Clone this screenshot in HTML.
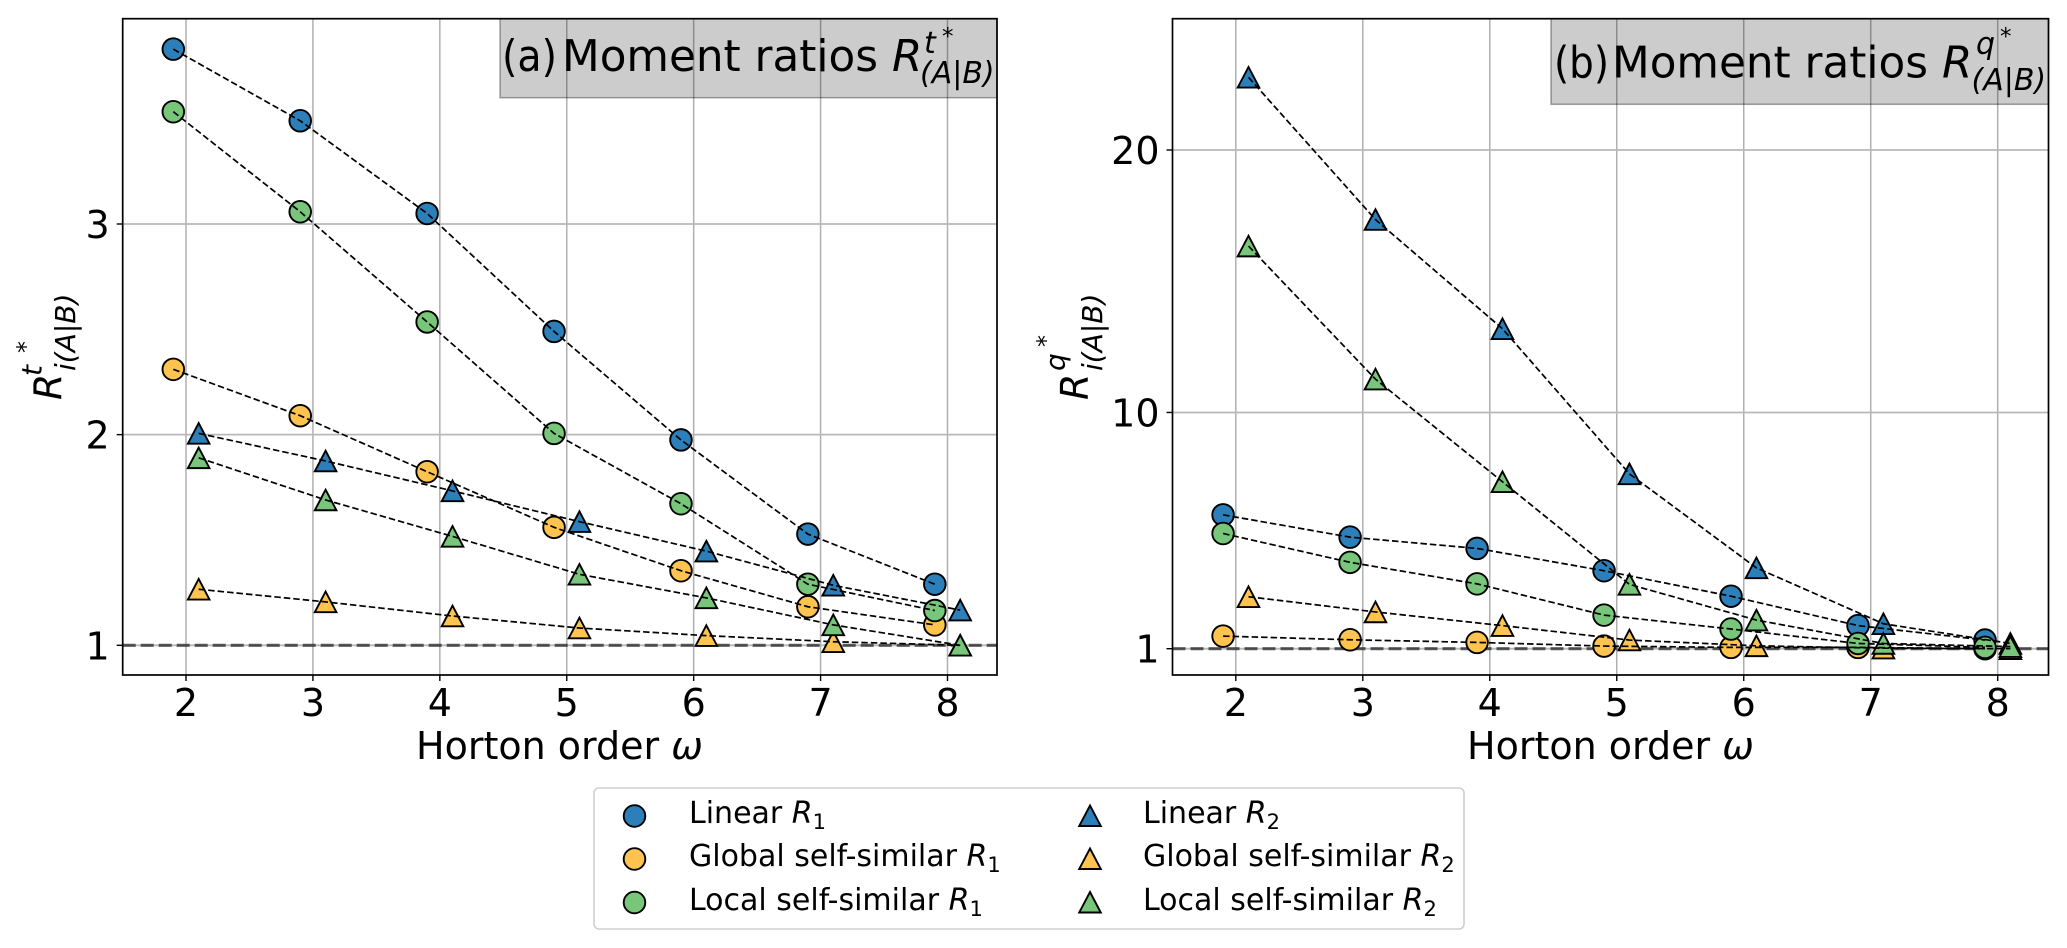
<!DOCTYPE html>
<html lang="en">
<head>
<meta charset="utf-8">
<title>Moment ratios vs Horton order</title>
<style>
html,body{margin:0;padding:0;background:#fff;width:2067px;height:948px;overflow:hidden}
svg{display:block}
text{font-family:"DejaVu Sans","Liberation Sans",sans-serif;fill:#000}
.i{font-style:italic}
.title{font-size:43.7px}
.axl{font-size:38px}
.leg{font-size:30px}
.tick{font-size:38px}
</style>
</head>
<body>
<svg id="fig" xmlns="http://www.w3.org/2000/svg" width="2067" height="948" viewBox="0 0 2067 948">
  <rect width="2067" height="948" fill="#fff"/>
  <g id="panel-a"></g>
  <g id="panel-b"></g>

  <g>
    <text class="title" x="502" y="71" textLength="55" lengthAdjust="spacingAndGlyphs">(a)</text>
    <text class="title" x="562" y="71">Moment ratios <tspan class="i">R</tspan></text>
    <text class="i" font-size="30" x="924" y="53">t</text>
    <text font-size="23" x="942" y="44">*</text>
    <text class="i" font-size="30" x="920" y="83">(A|B)</text>
  </g>
  <g>
    <text class="title" x="1554" y="77.7" textLength="55" lengthAdjust="spacingAndGlyphs">(b)</text>
    <text class="title" x="1612" y="77.7">Moment ratios <tspan class="i">R</tspan></text>
    <text class="i" font-size="30" x="1976" y="54">q</text>
    <text font-size="23" x="2000" y="44">*</text>
    <text class="i" font-size="30" x="1971.5" y="90">(A|B)</text>
  </g>

  <text class="axl" x="416" y="759">Horton order <tspan class="i">ω</tspan></text>
  <text class="axl" x="1467" y="759">Horton order <tspan class="i">ω</tspan></text>

  <g transform="translate(61.5,400) rotate(-90)">
    <text class="i" font-size="38" x="0" y="0">R</text>
    <text class="i" font-size="28" x="24" y="-20">t</text>
    <text font-size="24" x="47" y="-27.5">*</text>
    <text class="i" font-size="28" x="29" y="13.5">i(A|B)</text>
  </g>
  <g transform="translate(1088,400) rotate(-90)">
    <text class="i" font-size="38" x="0" y="0">R</text>
    <text class="i" font-size="28" x="29" y="-23">q</text>
    <text font-size="24" x="53" y="-34">*</text>
    <text class="i" font-size="28" x="29" y="14">i(A|B)</text>
  </g>

  <g id="legend">
    <rect x="594" y="788" width="870" height="141" rx="5" ry="5" fill="#fff" stroke="#cfcfcf" stroke-width="1.6"/>
    <text class="leg" x="689" y="823">Linear <tspan class="i">R</tspan><tspan font-size="21" dy="6">1</tspan></text>
    <text class="leg" x="689" y="866">Global self-similar <tspan class="i">R</tspan><tspan font-size="21" dy="6">1</tspan></text>
    <text class="leg" x="689" y="910">Local self-similar <tspan class="i">R</tspan><tspan font-size="21" dy="6">1</tspan></text>
    <text class="leg" x="1143" y="823">Linear <tspan class="i">R</tspan><tspan font-size="21" dy="6">2</tspan></text>
    <text class="leg" x="1143" y="866">Global self-similar <tspan class="i">R</tspan><tspan font-size="21" dy="6">2</tspan></text>
    <text class="leg" x="1143" y="910">Local self-similar <tspan class="i">R</tspan><tspan font-size="21" dy="6">2</tspan></text>
    <circle cx="634.5" cy="816" r="10.8" fill="#2c7fb8" stroke="#000" stroke-width="1.9"/>
    <circle cx="634.5" cy="859" r="10.8" fill="#fec44f" stroke="#000" stroke-width="1.9"/>
    <circle cx="634.5" cy="902.5" r="10.8" fill="#78c679" stroke="#000" stroke-width="1.9"/>
    <polygon points="1090,805.5 1100.8,826 1079.2,826" fill="#2c7fb8" stroke="#000" stroke-width="1.9"/>
    <polygon points="1090,848.5 1100.8,869 1079.2,869" fill="#fec44f" stroke="#000" stroke-width="1.9"/>
    <polygon points="1090,892 1100.8,912.5 1079.2,912.5" fill="#78c679" stroke="#000" stroke-width="1.9"/>
  </g>
</svg>
<script>
// Shared axis data
const hortonOrders = [2, 3, 4, 5, 6, 7, 8];
const panelAYTicks = [1, 2, 3];
const panelBYTicks = [1, 10, 20];

// Panel (a) series values
const aLinearR1 = [3.83, 3.49, 3.05, 2.49, 1.975, 1.528, 1.29];
const aGlobalR1 = [2.31, 2.09, 1.824, 1.56, 1.354, 1.183, 1.097];
const aLocalR1  = [3.533, 3.058, 2.535, 2.006, 1.672, 1.29, 1.165];
const aLinearR2 = [2.006, 1.875, 1.733, 1.587, 1.447, 1.285, 1.167];
const aGlobalR2 = [1.266, 1.206, 1.139, 1.082, 1.046, 1.017, 1.0];
const aLocalR2  = [1.89, 1.69, 1.517, 1.337, 1.225, 1.097, 1.0];

// Panel (b) series values
const bLinearR1 = [6.1, 5.25, 4.82, 3.97, 3.0, 1.88, 1.33];
const bGlobalR1 = [1.48, 1.34, 1.24, 1.1, 1.05, 1.05, 1.0];
const bLocalR1  = [5.39, 4.29, 3.47, 2.28, 1.75, 1.2, 1.05];
const bLinearR2 = [22.77, 17.35, 13.19, 7.66, 4.08, 1.95, 1.2];
const bGlobalR2 = [2.98, 2.4, 1.88, 1.33, 1.11, 1.02, 1.0];
const bLocalR2  = [16.34, 11.27, 7.36, 3.45, 2.09, 1.2, 1.08];

const SVGNS = 'http://www.w3.org/2000/svg';
const BLUE = '#2c7fb8', YELLOW = '#fec44f', GREEN = '#78c679';

function mk(parent, tag, attrs) {
  const el = document.createElementNS(SVGNS, tag);
  for (const k in attrs) el.setAttribute(k, attrs[k]);
  parent.appendChild(el);
  return el;
}

function linear(d0, r0, d1, r1) {
  return function (v) { return r0 + (v - d0) * (r1 - r0) / (d1 - d0); };
}

function drawPanel(rootId, frame, xScale, yScale, yTicks, boxFrame, series) {
  const root = document.getElementById(rootId);

  // Grid
  hortonOrders.forEach(function (w) {
    const el = mk(root, 'line', { x1: xScale(w), x2: xScale(w), y1: frame.top, y2: frame.bottom, stroke: '#b0b0b0', 'stroke-width': 1.5 });
    
    
  });
  yTicks.forEach(function (v) {
    const el = mk(root, 'line', { x1: frame.left, x2: frame.right, y1: yScale(v), y2: yScale(v), stroke: '#b8b8b8', 'stroke-width': 1.8 });
    
    
  });

  // Title box
  const box = mk(root, 'rect', { x: boxFrame.left, y: frame.top, width: frame.right - boxFrame.left, height: boxFrame.bottom - frame.top, fill: '#000', 'fill-opacity': 0.2, stroke: '#000', 'stroke-opacity': 0.35, 'stroke-width': 1.5 });
  
  

  // Reference line at ratio = 1
  const ref = mk(root, 'line', { x1: frame.left, x2: frame.right, y1: yScale(1), y2: yScale(1), stroke: '#000', 'stroke-opacity': 0.6, 'stroke-width': 3.2, 'stroke-dasharray': '13 5' });
  
  

  // Markers first, then connecting dashed lines on top
  series.forEach(function (s) {
    s.values.forEach(function (v, i) {
      const cx = xScale(hortonOrders[i] + s.offset);
      const cy = yScale(v);
      let m;
      if (s.shape === 'circle') {
        m = mk(root, 'circle', { cx: cx, cy: cy, r: 10.8, fill: s.color, stroke: '#000', 'stroke-width': 1.9 });
      } else {
        m = mk(root, 'polygon', { points: cx + ',' + (cy - 10.3) + ' ' + (cx + 10.8) + ',' + (cy + 10.3) + ' ' + (cx - 10.8) + ',' + (cy + 10.3), fill: s.color, stroke: '#000', 'stroke-width': 1.9 });
      }
      
      
    });
  });
  series.forEach(function (s) {
    const pts = s.values.map(function (v, i) { return xScale(hortonOrders[i] + s.offset) + ',' + yScale(v); }).join(' ');
    const l = mk(root, 'polyline', { points: pts, fill: 'none', stroke: '#000', 'stroke-width': 1.7, 'stroke-dasharray': '6.5 3' });
    
    
  });

  // Spines
  const spine = mk(root, 'rect', { x: frame.left, y: frame.top, width: frame.right - frame.left, height: frame.bottom - frame.top, fill: 'none', stroke: '#000', 'stroke-width': 1.7 });
  
  

  // Ticks
  hortonOrders.forEach(function (w) {
    const t = mk(root, 'line', { x1: xScale(w), x2: xScale(w), y1: frame.bottom, y2: frame.bottom + 6, stroke: '#000', 'stroke-width': 1.4 });
    
    
    const lb = mk(root, 'text', { x: xScale(w), y: 716, 'text-anchor': 'middle', class: 'tick' });
    
    
    lb.textContent = w;
  });
  yTicks.forEach(function (v) {
    const t = mk(root, 'line', { x1: frame.left - 6, x2: frame.left, y1: yScale(v), y2: yScale(v), stroke: '#000', 'stroke-width': 1.4 });
    
    
    const lb = mk(root, 'text', { x: frame.left - 13, y: yScale(v) + 14, 'text-anchor': 'end', class: 'tick' });
    
    
    lb.textContent = v;
  });
}

const aFrame = { left: 122.7, right: 997, top: 18.7, bottom: 675 };
const bFrame = { left: 1172.5, right: 2048.5, top: 18.7, bottom: 675 };

drawPanel('panel-a', aFrame,
  linear(2, 186, 8, 947.5),
  linear(1, 645.3, 3, 224),
  panelAYTicks,
  { left: 500, bottom: 97.7 },
  [
    { key: 'linear-r1', values: aLinearR1, color: BLUE, shape: 'circle', offset: -0.1 },
    { key: 'global-r1', values: aGlobalR1, color: YELLOW, shape: 'circle', offset: -0.1 },
    { key: 'local-r1', values: aLocalR1, color: GREEN, shape: 'circle', offset: -0.1 },
    { key: 'linear-r2', values: aLinearR2, color: BLUE, shape: 'triangle', offset: 0.1 },
    { key: 'global-r2', values: aGlobalR2, color: YELLOW, shape: 'triangle', offset: 0.1 },
    { key: 'local-r2', values: aLocalR2, color: GREEN, shape: 'triangle', offset: 0.1 }
  ]);

drawPanel('panel-b', bFrame,
  linear(2, 1235.8, 8, 1997.7),
  linear(1, 648.7, 20, 150),
  panelBYTicks,
  { left: 1551, bottom: 104.3 },
  [
    { key: 'linear-r1', values: bLinearR1, color: BLUE, shape: 'circle', offset: -0.1 },
    { key: 'global-r1', values: bGlobalR1, color: YELLOW, shape: 'circle', offset: -0.1 },
    { key: 'local-r1', values: bLocalR1, color: GREEN, shape: 'circle', offset: -0.1 },
    { key: 'linear-r2', values: bLinearR2, color: BLUE, shape: 'triangle', offset: 0.1 },
    { key: 'global-r2', values: bGlobalR2, color: YELLOW, shape: 'triangle', offset: 0.1 },
    { key: 'local-r2', values: bLocalR2, color: GREEN, shape: 'triangle', offset: 0.1 }
  ]);
</script>
</body>
</html>
